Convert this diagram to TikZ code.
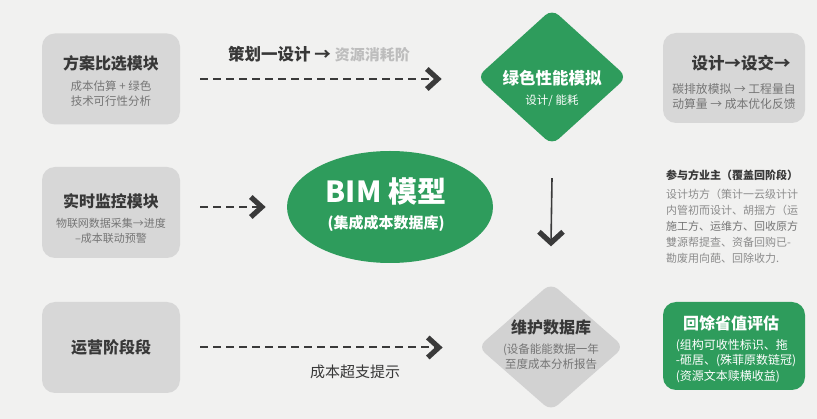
\documentclass[tikz,border=0pt]{standalone}
\usepackage{fontspec}
\setmainfont{Noto Sans CJK SC}
\usetikzlibrary{calc,shapes.geometric}
\definecolor{bg}{HTML}{F1F1F0}
\definecolor{boxgray}{HTML}{D7D7D7}
\definecolor{dmdgray}{HTML}{D2D2D2}
\definecolor{grn}{HTML}{2E9C5C}
\definecolor{dark}{HTML}{383838}
\definecolor{mid}{HTML}{757575}
\definecolor{faint}{HTML}{BDBDBD}
\definecolor{lite}{HTML}{8C8C8C}
\definecolor{arr}{HTML}{3A3A3A}
\begin{document}
\begin{tikzpicture}[x=1pt,y=-1pt,
  graybox/.style={fill=boxgray, rounded corners=13pt, minimum width=138pt, minimum height=91pt, inner sep=0pt},
  greenbox/.style={fill=grn, rounded corners=13pt, minimum width=142pt, minimum height=88pt, inner sep=0pt},
  ttl/.style={font=\fontsize{16}{19}\selectfont\bfseries, text=dark, inner sep=0pt},
  wttl/.style={font=\fontsize{16}{19}\selectfont\bfseries, text=white, inner sep=0pt},
  subtxt/.style={font=\fontsize{11.5}{15}\selectfont, text=mid, align=center, inner sep=0pt},
  wsub/.style={font=\fontsize{12}{15.5}\selectfont, text=white, align=center, inner sep=0pt},
  chev/.style={draw=arr, line width=5.2pt, line join=miter, line cap=butt},
  flow/.style={draw=arr, line width=2pt, dash pattern=on 8pt off 5pt},
  downflow/.style={draw=arr, line width=1.6pt}
]
\fill[bg] (0,0) rectangle (817,419);
\useasboundingbox (0,0) rectangle (817,419);

% left boxes
\node[graybox] (b1) at (111,79) {};
\node[ttl] (b1t) at (111,63) {方案比选模块};
\node[subtxt] (b1s) at (111,94) {成本估算 + 绿色\\技术可行性分析};

\node[graybox] (b2) at (111,212.5) {};
\node[ttl] (b2t) at (111,201) {实时监控模块};
\node[subtxt, font=\fontsize{11}{15}\selectfont] (b2s) at (111,231) {物联网数据采集→进度\\–成本联动预警};

\node[graybox] (b3) at (111,347.5) {};
\node[ttl] (b3t) at (111,347) {运营阶段段};

% green diamond top
\node[diamond, fill=grn, rounded corners=9pt, minimum width=150pt, minimum height=136pt, inner sep=0pt] (d1) at (552,77) {};
\node[wttl, font=\fontsize{16.5}{19}\selectfont\bfseries] (d1t) at (552,78) {绿色性能模拟};
\node[wsub, font=\fontsize{11.5}{15}\selectfont] (d1s) at (552,101) {设计/ 能耗};

% gray diamond bottom
\node[diamond, fill=dmdgray, rounded corners=9pt, minimum width=146pt, minimum height=128pt, inner sep=0pt] (d2) at (551,347) {};
\node[ttl] (d2t) at (551,327) {维护数据库};
\node[subtxt] (d2s) at (551,357) {(设备能能数据一年\\至度成本分析报告};

% ellipse
\node[ellipse, fill=grn, minimum width=206pt, minimum height=112pt, inner sep=0pt] (ell) at (390,207) {};
\node[inner sep=0pt, text=white, font=\fontsize{29}{32}\selectfont\bfseries] (ellt) at (386,191) {BIM 模型};
\node[inner sep=0pt, text=white, font=\fontsize{15}{18}\selectfont\bfseries] (ells) at (386,224) {(集成成本数据库)};

% top right box
\node[graybox, minimum width=142pt, minimum height=90pt] (r1) at (734,78) {};
\node[ttl, font=\fontsize{16.5}{19}\selectfont\bfseries] (r1t) at (741,63) {设计→设交→};
\node[subtxt, font=\fontsize{11.8}{15}\selectfont] (r1s) at (734,97) {碳排放模拟 → 工程量自\\动算量 → 成本优化反馈};

% right text block
\node[anchor=west, inner sep=0pt, text=dark, font=\fontsize{11}{14}\selectfont\bfseries] (r2t) at (666,175) {参与方业主（覆盖回阶段）};
\node[anchor=north west, inner sep=0pt, text=lite, align=left, font=\fontsize{11}{16}\selectfont] (r2s) at (666,189)
  {设计坊方（策计一云级计计\\内管初而设计、胡揺方（运\\\textcolor{mid}{施工方、运维方、回收原方}\\雙源帮提查、资备回购已-\\勘废用向葩、回除收力.};

% bottom right green box
\node[greenbox] (r3) at (734,346) {};
\node[wttl] (r3t) at (731,323) {回馀省值评估};
\node[wsub, align=left] (r3s) at (736,361) {(组构可收性标识、拖\\-砸居、(殊菲原数链冠)\\(资源文本赎横收益)};

% connector end points
\coordinate (s1) at ($(b1.east)+(20,0)$);
\coordinate (e1) at ($(b1.east -| d1.west)+(-39,0)$);
\coordinate (s2) at ($(b2.east |- ell)+(20,0)$);
\coordinate (e2) at ($(ell.west)+(-25,0)$);
\coordinate (s3) at ($(b3.east)+(20,0)$);
\coordinate (e3) at ($(b3.east -| d2.west)+(-39,0)$);
\coordinate (s4) at ($(d1.south)+(0,33)$);
\coordinate (e4) at ($(d2.north)+(0,-40)$);

% connectors
\draw[flow] (s1) -- (e1);
\draw[chev] ($(e1)+(-11,-10)$) -- (e1) -- ($(e1)+(-11,10)$);
\node[inner sep=0pt, font=\fontsize{16.5}{19}\selectfont\bfseries, text=dark, anchor=west] (l1) at (228,54) {策划一设计 → \textcolor{faint}{\fontsize{15}{18}\selectfont 资源消耗阶}};

\draw[flow] (s2) -- (e2);
\draw[chev] ($(e2)+(-11,-10)$) -- (e2) -- ($(e2)+(-11,10)$);

\draw[flow] (s3) -- (e3);
\draw[chev] ($(e3)+(-11,-10)$) -- (e3) -- ($(e3)+(-11,10)$);
\node[inner sep=0pt, font=\fontsize{15}{18}\selectfont, text=dark] (l3) at (355,372) {成本超支提示};

\draw[downflow] (s4) -- (e4);
\draw[chev] ($(e4)+(-12,-11)$) -- (e4) -- ($(e4)+(12,-11)$);
\end{tikzpicture}
\end{document}
